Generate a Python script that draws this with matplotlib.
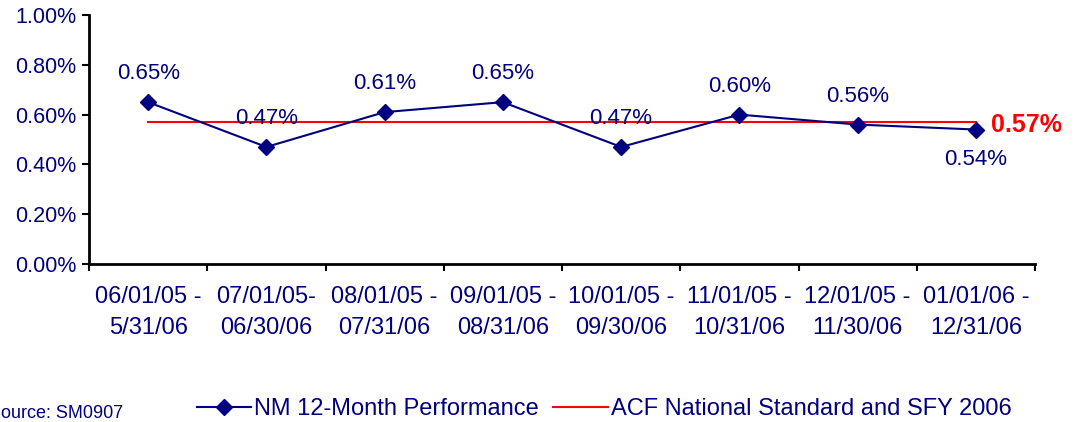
import numpy as np
import matplotlib.pyplot as plt
from matplotlib.lines import Line2D

plt.rcParams['font.family'] = ['Liberation Sans', 'DejaVu Sans']

# Dados
periods = ['06/01/05 -\n5/31/06', '07/01/05-\n06/30/06', '08/01/05 -\n07/31/06',
           '09/01/05 -\n08/31/06', '10/01/05 -\n09/30/06', '11/01/05 -\n10/31/06',
           '12/01/05 -\n11/30/06', '01/01/06 -\n12/31/06']
nm_perf = [0.65, 0.47, 0.61, 0.65, 0.47, 0.60, 0.56, 0.54]
standard = 0.57
yticks = [0.0, 0.2, 0.4, 0.6, 0.8, 1.0]

navy = '#000080'
red = '#ff0000'

fig = plt.figure(figsize=(10.78, 4.22), dpi=100)
ax = fig.add_axes([89/1078, 1 - 264/422, (1035-89)/1078, (264-15)/422])

x = np.arange(len(periods))
ax.plot(x, nm_perf, '-D', color=navy, lw=1.5, ms=8, zorder=3)
ax.plot([x[0], x[-1]], [standard, standard], color=red, lw=1.5, zorder=2)

# Rótulos dos pontos
for i, v in enumerate(nm_perf):
    dy = -14 if i == len(nm_perf) - 1 else 13
    va = 'top' if dy < 0 else 'bottom'
    ax.annotate(f'{v:.2f}%', (x[i], v), xytext=(0, dy), textcoords='offset points',
                ha='center', va=va, color=navy, fontsize=16)
ax.annotate(f'{standard:.2f}%', (x[-1], standard), xytext=(11, -2), textcoords='offset points',
            ha='left', va='center', color=red, fontsize=18, fontweight='bold')

ax.set_xlim(-0.5, len(periods) - 0.5)
ax.set_ylim(0, 1.0)
ax.set_yticks(yticks)
ax.set_yticklabels([f'{t:.2f}%' for t in yticks], color=navy, fontsize=15.5)
ax.set_xticks(np.arange(len(periods) + 1) - 0.5)
ax.set_xticklabels([])
ax.set_xticks(x, minor=True)
ax.set_xticklabels(periods, minor=True, color=navy, fontsize=17, linespacing=1.5)
ax.tick_params(axis='x', which='minor', length=0, pad=16)
ax.tick_params(axis='both', which='major', direction='out', length=5, width=1.5, color='black')
ax.tick_params(axis='y', pad=4)
for s in ['top', 'right']:
    ax.spines[s].set_visible(False)
for s in ['left', 'bottom']:
    ax.spines[s].set_linewidth(2)

handles = [Line2D([], [], color=navy, marker='D', ms=8, lw=1.5),
           Line2D([], [], color=red, lw=1.5)]
fig.legend(handles, ['NM 12-Month Performance', 'ACF National Standard and SFY 2006'],
           loc='center left', bbox_to_anchor=(180/1078, 1 - 409/422), ncol=2, frameon=False,
           fontsize=17, labelcolor=navy, handlelength=2.3, handletextpad=0.15, columnspacing=0.6,
           borderpad=0.2)
fig.text(-11/1078, 1 - 413/422, 'Source: SM0907', color=navy, fontsize=13, va='center')

fig.savefig('out.png', dpi=100)
